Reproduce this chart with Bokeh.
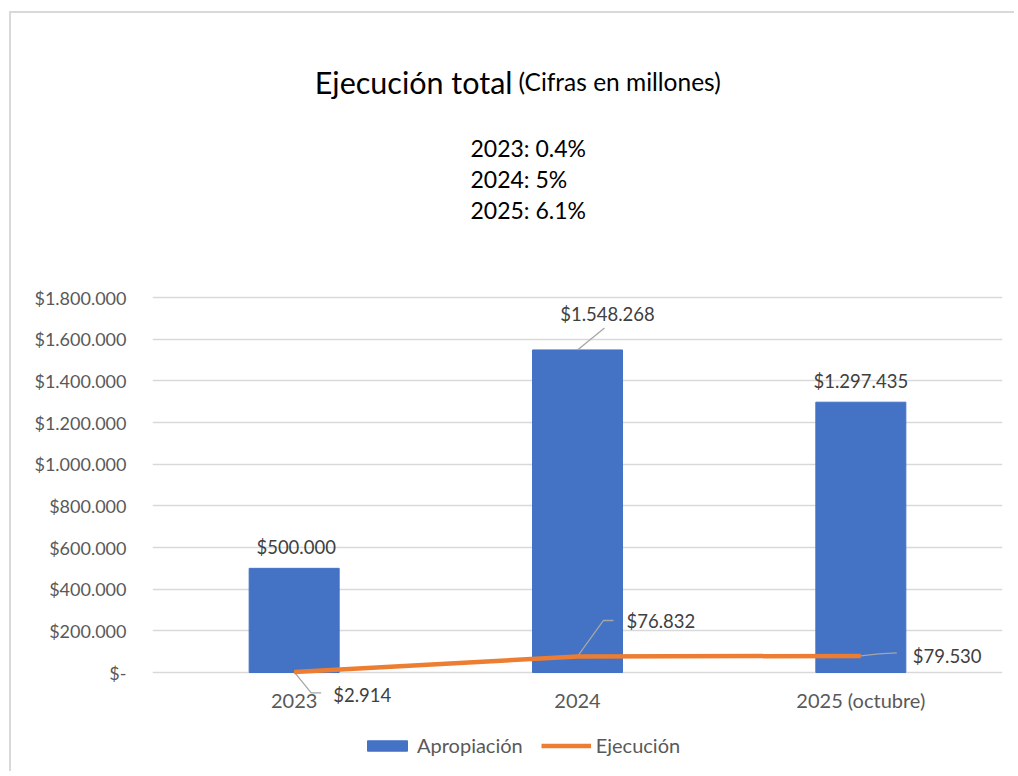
from bokeh.plotting import figure
from bokeh.models import (Range1d, FixedTicker, ColumnDataSource, Label,
                          Legend, LegendItem)
from bokeh.embed import file_html
from bokeh.resources import INLINE

# ---------------- data ----------------
categories = ["2023", "2024", "2025 (octubre)"]
apropiacion = [500000, 1548268, 1297435]
ejecucion = [2914, 76832, 79530]
y_ticks = [0, 200000, 400000, 600000, 800000, 1000000, 1200000, 1400000, 1600000, 1800000]
title_main = "Ejecución total"
title_note = "(Cifras en millones)"
subtitle_lines = ["2023: 0.4%", "2024: 5%", "2025: 6.1%"]
series_names = ["Apropiación", "Ejecución"]

# ---------------- layout / style ----------------
FONT = "Lato"
BLUE = "#4472C4"
ORANGE = "#ED7D31"
GREY_TXT = "#595959"
GRID = "#d9d9d9"
LEADER = "#a6a6a6"

W, H = 1005, 760
FL, FR = 141, 14              # frame left / right borders
FW = W - FL - FR              # frame width (px)
ZERO_Y = 659                  # pixel row (from top) of the value 0
TOP_Y = 284                   # pixel row of the top tick
Y_MAX = y_ticks[-1]
XPX = len(categories) / FW                  # data units per px (x)
YPX = Y_MAX / (ZERO_Y - TOP_Y)              # data units per px (y)
Y_START = -(H - ZERO_Y) * YPX
Y_END = Y_MAX + TOP_Y * YPX


def money(v):
    return "$" + f"{v:,}".replace(",", ".")


xs = [i + 0.5 for i in range(len(categories))]

p = figure(width=W, height=H, output_backend="svg", toolbar_location=None,
           x_range=Range1d(0, len(categories)), y_range=Range1d(Y_START, Y_END),
           min_border_left=FL, min_border_right=FR, min_border_top=0,
           min_border_bottom=0)
p.outline_line_color = None
p.background_fill_color = "white"
p.border_fill_color = "white"
p.styles = {"border-top": "2px solid #d9d9d9", "border-left": "2px solid #d9d9d9",
            "margin-top": "11px", "margin-left": "9px"}

# axes
p.xaxis.fixed_location = 0
p.xaxis.ticker = FixedTicker(ticks=xs)
p.xaxis.major_label_overrides = {x: c for x, c in zip(xs, categories)}
p.yaxis.ticker = FixedTicker(ticks=y_ticks)
p.yaxis.major_label_overrides = {t: ("$-" if t == 0 else money(t)) for t in y_ticks}
for ax in (p.xaxis, p.yaxis):
    ax.axis_line_color = None
    ax.major_tick_line_color = None
    ax.minor_tick_line_color = None
    ax.major_tick_out = 0
    ax.major_tick_in = 0
    ax.major_label_text_font = FONT
    ax.major_label_text_color = GREY_TXT
p.xaxis.major_label_text_font_size = "20px"
p.yaxis.major_label_text_font_size = "18px"
p.xaxis.major_label_standoff = 15
p.yaxis.major_label_standoff = 26
p.xgrid.grid_line_color = None
p.ygrid.grid_line_color = GRID
p.ygrid.grid_line_width = 1.3

# bars
src = ColumnDataSource(dict(x=xs, apr=apropiacion, eje=ejecucion))
bars = p.vbar(x="x", top="apr", bottom=0, width=90 * XPX, source=src,
              fill_color=BLUE, line_color=BLUE)

# leader lines (pixel offsets from anchor)
bar_leaders = [None, [(0, 0), (27, 22)], None]
eje_leaders = [[(0, 0), (17, -21), (27, -21)], [(0, 0), (26, 36), (36, 36)],
               [(0, 0), (18, 2), (36, 3)]]
lx, ly = [], []
for vals, leaders in ((apropiacion, bar_leaders), (ejecucion, eje_leaders)):
    for x, v, ld in zip(xs, vals, leaders):
        if ld:
            lx.append([x + dx * XPX for dx, dy in ld])
            ly.append([v + dy * YPX for dx, dy in ld])
p.multi_line(xs=lx, ys=ly, line_color=LEADER, line_width=1.3)

# line
line = p.line(x="x", y="eje", source=src, line_color=ORANGE, line_width=4.5)

# data labels
apr_off = [(2, 21), (30, 36), (0, 21)]
eje_off = [(39, -23), (49, 35), (52, 0)]
for vals, offs, align in ((apropiacion, apr_off, "center"),
                          (ejecucion, eje_off, "left")):
    for x, v, (ox, oy) in zip(xs, vals, offs):
        p.add_layout(Label(x=x, y=v, text=money(v), x_offset=ox, y_offset=oy,
                           text_align=align, text_baseline="middle",
                           text_font=FONT, text_font_size="18.5px",
                           text_color="#404040"))

# title and subtitle (screen px measured from frame's bottom-left corner)
p.add_layout(Label(x=360, y=692, x_units="screen", y_units="screen",
                   text=title_main, text_align="right", text_baseline="alphabetic",
                   text_font=FONT, text_font_size="30.5px", text_color="black"))
p.add_layout(Label(x=366, y=692, x_units="screen", y_units="screen",
                   text=title_note, text_align="left", text_baseline="alphabetic",
                   text_font=FONT, text_font_size="24.5px", text_color="black"))
for k, s in enumerate(subtitle_lines):
    p.add_layout(Label(x=318, y=626 - 31 * k, x_units="screen", y_units="screen",
                       text=s, text_align="left", text_baseline="alphabetic",
                       text_font=FONT, text_font_size="23px", text_color="black"))

# legend
legend = Legend(items=[LegendItem(label=series_names[0], renderers=[bars]),
                       LegendItem(label=series_names[1], renderers=[line])],
                orientation="horizontal", location=(210, 16),
                glyph_width=50, glyph_height=13, label_standoff=5, spacing=18,
                padding=0, margin=0, border_line_color=None,
                background_fill_alpha=0,
                label_text_font=FONT, label_text_font_size="20px",
                label_text_color=GREY_TXT)
p.add_layout(legend, "center")

open("out.html", "w").write(file_html(p, INLINE))
